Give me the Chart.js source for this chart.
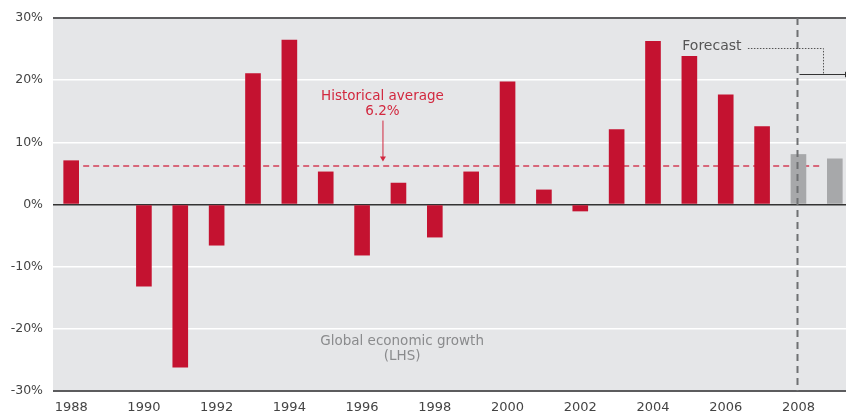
<!DOCTYPE html>
<html><head><meta charset="utf-8">
<script src="https://cdn.jsdelivr.net/npm/chart.js@4/dist/chart.umd.min.js"></script>
<style>html,body{margin:0;padding:0;background:#fff;overflow:hidden;width:846px;height:414px}#wrap{width:853px;height:414px}</style>
</head><body><div id="wrap"><canvas id="c" width="853" height="414"></canvas></div>
<script>
const years = ['1988','1989','1990','1991','1992','1993','1994','1995','1996','1997','1998','1999','2000','2001','2002','2003','2004','2005','2006','2007','2008','2009'];
const growth = [7.1, null, -13.2, -26.2, -6.6, 21.1, 26.5, 5.3, -8.2, 3.5, -5.3, 5.3, 19.8, 2.4, -1.1, 12.1, 26.3, 23.9, 17.7, 12.6, 8.1, 7.4];
const forecastFrom = '2008';
const historicalAverage = 6.2;
const yTicks = [-30, -20, -10, 0, 10, 20, 30];

const RED = '#c41230', GREY = '#a7a8aa';
const FONT = '"DejaVu Sans", sans-serif';
const fIdx = years.indexOf(forecastFrom);

const annot = {
  id: 'annot',
  beforeDraw(chart) {
    const {ctx, chartArea: a} = chart;
    ctx.save(); ctx.fillStyle = '#e5e6e8';
    ctx.fillRect(a.left, a.top, a.right - a.left, a.bottom - a.top);
    ctx.restore();
  },
  beforeDatasetsDraw(chart) {
    const {ctx} = chart; const x = chart.scales.x, y = chart.scales.y;
    ctx.save();
    ctx.strokeStyle = 'rgba(214,80,102,0.85)'; ctx.lineWidth = 2; ctx.setLineDash([6,4]);
    const ya = Math.round(y.getPixelForValue(historicalAverage));
    ctx.beginPath(); ctx.moveTo(x.getPixelForValue(0.33), ya); ctx.lineTo(x.getPixelForValue(20.67), ya); ctx.stroke();
    ctx.restore();
  },
  afterDatasetsDraw(chart) {
    const {ctx, chartArea: a} = chart; const x = chart.scales.x, y = chart.scales.y;
    ctx.save();
    ctx.strokeStyle = '#6f7072'; ctx.lineWidth = 2; ctx.setLineDash([7,5]);
    const xv = Math.round(x.getPixelForValue(fIdx)) - 0.5;
    ctx.beginPath(); ctx.moveTo(xv, a.top); ctx.lineTo(xv, a.bottom); ctx.stroke();
    ctx.setLineDash([]);
    ctx.fillStyle = '#d2283f'; ctx.font = '13.5px ' + FONT; ctx.textAlign = 'center'; ctx.textBaseline = 'middle';
    const xh = x.getPixelForValue(8.56);
    ctx.fillText('Historical average', xh, y.getPixelForValue(17.4));
    ctx.fillText(historicalAverage.toFixed(1) + '%', xh, y.getPixelForValue(15.0));
    ctx.strokeStyle = '#d2283f'; ctx.lineWidth = 1;
    const ay0 = y.getPixelForValue(13.5), ay1 = y.getPixelForValue(6.9);
    ctx.beginPath(); ctx.moveTo(xh + 0.5, ay0); ctx.lineTo(xh + 0.5, ay1 - 4); ctx.stroke();
    ctx.beginPath(); ctx.moveTo(xh - 2.5, ay1 - 5); ctx.lineTo(xh + 3.5, ay1 - 5); ctx.lineTo(xh + 0.5, ay1); ctx.closePath(); ctx.fill();
    ctx.fillStyle = '#555'; ctx.font = '14px ' + FONT;
    const yf = y.getPixelForValue(25.5);
    ctx.fillText('Forecast', x.getPixelForValue(17.62), yf);
    ctx.strokeStyle = '#555'; ctx.lineWidth = 1; ctx.setLineDash([1.5,1.5]);
    const xd0 = x.getPixelForValue(18.61), xd1 = Math.round(x.getPixelForValue(20.67)) + 0.5;
    const yd = Math.round(y.getPixelForValue(25.2)) + 0.5, yb = Math.round(y.getPixelForValue(21.0)) + 0.5;
    ctx.beginPath(); ctx.moveTo(xd0, yd); ctx.lineTo(xd1, yd); ctx.lineTo(xd1, yb); ctx.stroke();
    ctx.setLineDash([]); ctx.strokeStyle = '#333';
    ctx.beginPath(); ctx.moveTo(xv + 2, yb); ctx.lineTo(a.right - 8, yb); ctx.stroke();
    ctx.fillStyle = '#333';
    ctx.beginPath(); ctx.moveTo(845, yb - 3); ctx.lineTo(850, yb); ctx.lineTo(845, yb + 3); ctx.closePath(); ctx.fill();
    ctx.fillStyle = '#8a8b8d'; ctx.font = '13.5px ' + FONT;
    const xs = x.getPixelForValue(9.1);
    ctx.fillText('Global economic growth', xs, y.getPixelForValue(-22.1));
    ctx.fillText('(LHS)', xs, y.getPixelForValue(-24.4));
    ctx.restore();
  }
};

new Chart(document.getElementById('c'), {
  type: 'bar',
  data: {
    labels: years,
    datasets: [{
      data: growth,
      backgroundColor: years.map((yr, i) => i >= fIdx ? GREY : RED),
      barPercentage: 0.43,
      categoryPercentage: 1.0,
      borderWidth: 0
    }]
  },
  options: {
    responsive: false,
    animation: false,
    layout: { padding: { top: 18, right: 0, left: 0, bottom: 0 } },
    plugins: { legend: { display: false }, tooltip: { enabled: false } },
    scales: {
      x: {
        offset: true,
        grid: { display: false, drawTicks: false },
        border: { display: false },
        afterFit(s) { s.height = 23; },
        ticks: {
          autoSkip: false, maxRotation: 0, padding: 9,
          color: '#444', font: { family: FONT, size: 13 },
          callback(v) { const l = years[v]; return (+l % 2 === 0) ? l : ''; }
        }
      },
      y: {
        min: -30, max: 30,
        afterBuildTicks(s) { s.ticks = yTicks.map(v => ({ value: v })); },
        afterFit(s) { s.width = 53; },
        border: { display: false },
        grid: {
          drawTicks: false,
          color(c) { const v = c.tick.value; return v === 0 ? '#333' : (Math.abs(v) === 30 ? '#5c5c5e' : '#ffffff'); },
          lineWidth(c) { const v = c.tick.value; return v === 0 ? 1.5 : (Math.abs(v) === 30 ? 2 : 1.5); }
        },
        ticks: {
          padding: 10, color: '#444', font: { family: FONT, size: 12.5 },
          callback(v) { return v + '%'; }
        }
      }
    }
  },
  plugins: [annot]
});
</script>
</body></html>
